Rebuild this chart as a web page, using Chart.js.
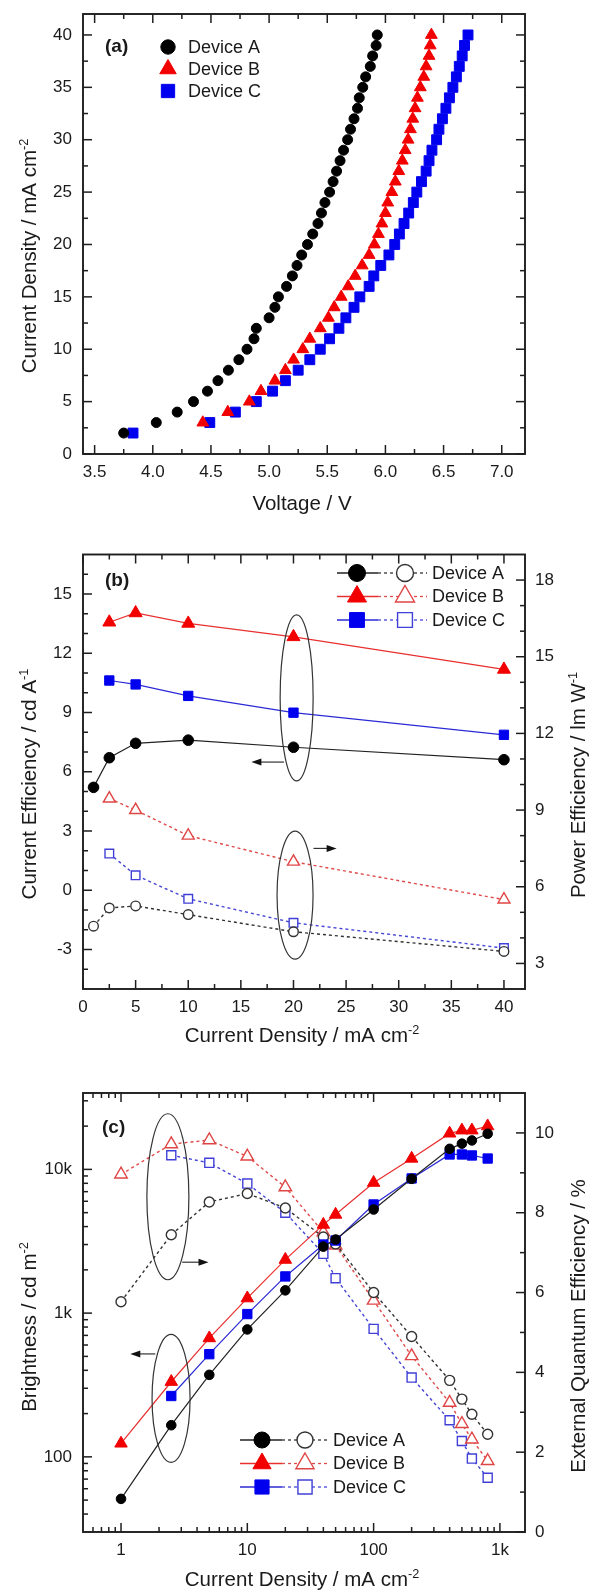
<!DOCTYPE html>
<html lang="en">
<head>
    <meta charset="UTF-8">
    <title>Device Characteristics</title>
    <script src="https://cdn.jsdelivr.net/npm/chart.js"></script>
    <style>
        body { margin: 0; background: #fff; }
        .panel { position: absolute; left: 0; }
        canvas { display: block; }
    </style>
</head>
<body>
    <div class="panel" style="top:0"><canvas id="jvChart" width="592" height="546"></canvas></div>
    <div class="panel" style="top:546px"><canvas id="effChart" width="592" height="516"></canvas></div>
    <div class="panel" style="top:1062px"><canvas id="lumChart" width="592" height="529"></canvas></div>

    <script>
        // (a) current density vs voltage
        const jA = [2, 3, 4, 5, 6, 7, 8, 9, 10, 11, 12, 13, 14, 15, 16, 17, 18, 19, 20, 21, 22, 23, 24, 25, 26, 27, 28, 29, 30, 31, 32, 33, 34, 35, 36, 37, 38, 39, 40];
        const voltA = [3.75, 4.03, 4.21, 4.35, 4.47, 4.56, 4.65, 4.74, 4.81, 4.87, 4.89, 5.00, 5.05, 5.08, 5.15, 5.20, 5.24, 5.28, 5.33, 5.375, 5.42, 5.45, 5.48, 5.52, 5.55, 5.58, 5.61, 5.64, 5.675, 5.70, 5.73, 5.76, 5.775, 5.805, 5.83, 5.87, 5.89, 5.92, 5.93];
        const jB = [3, 4, 5, 6, 7, 8, 9, 10, 11, 12, 13, 14, 15, 16, 17, 18, 19, 20, 21, 22, 23, 24, 25, 26, 27, 28, 29, 30, 31, 32, 33, 34, 35, 36, 37, 38, 39, 40];
        const voltB = [4.43, 4.645, 4.83, 4.93, 5.05, 5.14, 5.21, 5.29, 5.35, 5.44, 5.51, 5.56, 5.62, 5.68, 5.74, 5.80, 5.86, 5.905, 5.94, 5.97, 6.0, 6.02, 6.055, 6.085, 6.115, 6.145, 6.17, 6.195, 6.215, 6.235, 6.255, 6.275, 6.30, 6.33, 6.35, 6.375, 6.385, 6.395];
        const jC = [2, 3, 4, 5, 6, 7, 8, 9, 10, 11, 12, 13, 14, 15, 16, 17, 18, 19, 20, 21, 22, 23, 24, 25, 26, 27, 28, 29, 30, 31, 32, 33, 34, 35, 36, 37, 38, 39, 40];
        const voltC = [3.83, 4.49, 4.71, 4.89, 5.03, 5.14, 5.25, 5.35, 5.44, 5.52, 5.60, 5.66, 5.73, 5.78, 5.86, 5.90, 5.96, 6.03, 6.08, 6.12, 6.16, 6.20, 6.24, 6.27, 6.31, 6.35, 6.375, 6.40, 6.44, 6.46, 6.49, 6.52, 6.55, 6.58, 6.61, 6.635, 6.66, 6.68, 6.71];
        const voltTicks = [3.5, 4.0, 4.5, 5.0, 5.5, 6.0, 6.5, 7.0];
        const voltMinor = [3.75, 4.25, 4.75, 5.25, 5.75, 6.25, 6.75];
        const jTicks = [0, 5, 10, 15, 20, 25, 30, 35, 40];
        const jMinor = [2.5, 7.5, 12.5, 17.5, 22.5, 27.5, 32.5, 37.5];

        // (b) current and power efficiency vs current density
        const densA = [1, 2.5, 5, 10, 20, 40];
        const densBC = [2.5, 5, 10, 20, 40];
        const ceA = [5.21, 6.71, 7.44, 7.6, 7.24, 6.61];
        const ceB = [13.57, 14.04, 13.51, 12.83, 11.18];
        const ceC = [10.62, 10.42, 9.84, 8.99, 7.87];
        const peA = [4.46, 5.17, 5.25, 4.91, 4.24, 3.47];
        const peB = [9.45, 9.0, 8.0, 6.98, 5.5];
        const peC = [7.3, 6.45, 5.53, 4.59, 3.6];
        const densTicks = [0, 5, 10, 15, 20, 25, 30, 35, 40];
        const densMinor = [2.5, 7.5, 12.5, 17.5, 22.5, 27.5, 32.5, 37.5];
        const ceTicks = [-3, 0, 3, 6, 9, 12, 15];
        const ceMinor = [-4, -2, -1, 1, 2, 4, 5, 7, 8, 10, 11, 13, 14, 16];
        const peTicks = [3, 6, 9, 12, 15, 18];
        const peMinor = [4, 5, 7, 8, 10, 11, 13, 14, 16, 17];

        // (c) brightness and EQE vs current density (log)
        const densAB = [1, 2.5, 5, 10, 20, 40, 50, 100, 200, 400, 500, 600, 800];
        const densOnlyC = [2.5, 5, 10, 20, 40, 50, 100, 200, 400, 500, 600, 800];
        const brA = [51, 166, 372, 770, 1440, 2900, 3250, 5260, 8600, 13900, 15100, 15900, 17700];
        const brB = [124, 333, 670, 1270, 2355, 4130, 4850, 8080, 11900, 17800, 18700, 18700, 20000];
        const brC = [265, 518, 985, 1800, 3000, 3200, 5700, 8650, 12700, 12700, 12500, 11900];
        const eqeA = [5.77, 7.45, 8.27, 8.48, 8.12, 7.39, 7.22, 6.0, 4.9, 3.80, 3.33, 2.95, 2.45];
        const eqeB = [8.96, 9.72, 9.82, 9.41, 8.64, 7.51, 7.18, 5.8, 4.41, 3.24, 2.71, 2.32, 1.78];
        const eqeC = [9.44, 9.25, 8.73, 8.0, 6.97, 6.36, 5.09, 3.87, 2.80, 2.28, 1.84, 1.36];
        const logDensTicks = [1, 10, 100, 1000];
        const logDensText = ['1', '10', '100', '1k'];
        const logDensMinor = [0.6, 0.7, 0.8, 0.9, 2, 3, 4, 5, 6, 7, 8, 9, 20, 30, 40, 50, 60, 70, 80, 90, 200, 300, 400, 500, 600, 700, 800, 900];
        const brTicks = [100, 1000, 10000];
        const brText = ['100', '1k', '10k'];
        const brMinor = [40, 50, 60, 70, 80, 90, 200, 300, 400, 500, 600, 700, 800, 900, 2000, 3000, 4000, 5000, 6000, 7000, 8000, 9000, 20000, 30000];
        const eqeTicks = [0, 2, 4, 6, 8, 10];
        const eqeMinor = [1, 3, 5, 7, 9];

        const FONT = "'Liberation Sans', Arial, Helvetica, sans-serif";
        const INK = '#1a1a1a';

        function drawMarker(ctx, shape, x, y, r, fill, stroke, lw) {
            ctx.beginPath();
            if (shape === 'circle') {
                ctx.arc(x, y, r, 0, Math.PI * 2);
            } else if (shape === 'triangle') {
                ctx.moveTo(x, y - r);
                ctx.lineTo(x + r * 0.866, y + r * 0.5);
                ctx.lineTo(x - r * 0.866, y + r * 0.5);
            } else {
                const s = r * Math.SQRT1_2;
                ctx.rect(x - s, y - s, 2 * s, 2 * s);
            }
            ctx.closePath();
            ctx.fillStyle = fill;
            ctx.fill();
            ctx.strokeStyle = stroke;
            ctx.lineWidth = lw;
            ctx.stroke();
        }

        // text with raised superscript pieces, centred on (x, y)
        function drawRich(ctx, parts, x, y, rot, size) {
            const main = size + 'px ' + FONT;
            const sup = (size * 0.62) + 'px ' + FONT;
            ctx.save();
            ctx.translate(x, y);
            ctx.rotate(rot);
            ctx.fillStyle = INK;
            ctx.textBaseline = 'alphabetic';
            ctx.textAlign = 'left';
            let w = 0;
            parts.forEach(([t, s]) => { ctx.font = s ? sup : main; w += ctx.measureText(t).width; });
            let cx = -w / 2;
            parts.forEach(([t, s]) => {
                ctx.font = s ? sup : main;
                ctx.fillText(t, cx, s ? size * 0.36 - size * 0.42 : size * 0.36);
                cx += ctx.measureText(t).width;
            });
            ctx.restore();
        }

        // frame, inward ticks, annotations, legend and titles
        const decor = {
            id: 'decor',
            afterDatasetsDraw(chart, args, o) {
                if (!o || !o.ticks) return;
                const ctx = chart.ctx, a = chart.chartArea;
                ctx.save();

                ctx.strokeStyle = '#333';
                ctx.fillStyle = '#111';
                ctx.lineWidth = 1.2;
                (o.marks || []).forEach(m => {
                    const xs = chart.scales.x, ys = chart.scales[m.axis || 'y'];
                    if (m.ellipse) {
                        ctx.beginPath();
                        ctx.ellipse(xs.getPixelForValue(m.x), ys.getPixelForValue(m.y), m.rx, m.ry, 0, 0, Math.PI * 2);
                        ctx.stroke();
                    } else {
                        const x1 = xs.getPixelForValue(m.from), x2 = xs.getPixelForValue(m.to), y = ys.getPixelForValue(m.y);
                        const d = Math.sign(x2 - x1);
                        ctx.beginPath();
                        ctx.moveTo(x1, y);
                        ctx.lineTo(x2 - d * 6, y);
                        ctx.stroke();
                        ctx.beginPath();
                        ctx.moveTo(x2, y);
                        ctx.lineTo(x2 - d * 10, y - 3.5);
                        ctx.lineTo(x2 - d * 10, y + 3.5);
                        ctx.closePath();
                        ctx.fill();
                    }
                });

                ctx.strokeStyle = '#1e1e1e';
                ctx.lineWidth = 1.5;
                Object.entries(o.ticks).forEach(([side, t]) => {
                    const s = chart.scales[t.scale];
                    [[t.major, 9], [t.minor, 5]].forEach(([vals, len]) => vals.forEach(v => {
                        const p = s.getPixelForValue(v);
                        ctx.beginPath();
                        if (side === 'bottom') { ctx.moveTo(p, a.bottom); ctx.lineTo(p, a.bottom - len); }
                        else if (side === 'top') { ctx.moveTo(p, a.top); ctx.lineTo(p, a.top + len); }
                        else if (side === 'left') { ctx.moveTo(a.left, p); ctx.lineTo(a.left + len, p); }
                        else { ctx.moveTo(a.right, p); ctx.lineTo(a.right - len, p); }
                        ctx.stroke();
                    }));
                });
                ctx.lineWidth = 1.9;
                ctx.strokeRect(a.left, a.top, a.right - a.left, a.bottom - a.top);

                const lg = o.legend;
                if (lg) {
                    const ds = chart.data.datasets;
                    lg.items.forEach((it, i) => {
                        const y = lg.rows[i];
                        const f = ds[it.filled];
                        if (it.open !== undefined) {
                            const op = ds[it.open];
                            ctx.save();
                            ctx.strokeStyle = op.borderColor;
                            ctx.lineWidth = 1.3;
                            ctx.setLineDash(op.borderDash);
                            ctx.beginPath();
                            ctx.moveTo(lg.solidTo, y);
                            ctx.lineTo(lg.lineTo, y);
                            ctx.stroke();
                            ctx.restore();
                            ctx.strokeStyle = f.borderColor;
                            ctx.lineWidth = 1.3;
                            ctx.beginPath();
                            ctx.moveTo(lg.lineFrom, y);
                            ctx.lineTo(lg.solidTo, y);
                            ctx.stroke();
                            drawMarker(ctx, op.pointStyle, lg.openX, y, lg.r[op.pointStyle], '#fff', op.pointBorderColor, 1.4);
                        }
                        drawMarker(ctx, f.pointStyle, lg.markX, y, lg.r[f.pointStyle], f.pointBackgroundColor, f.pointBorderColor, 1);
                        ctx.fillStyle = INK;
                        ctx.font = '18px ' + FONT;
                        ctx.textBaseline = 'middle';
                        ctx.textAlign = 'left';
                        ctx.fillText(f.label, lg.textX, y + 1);
                    });
                }

                (o.titles || []).forEach(t => drawRich(ctx, t.parts, t.x, t.y, t.rot || 0, 20.5));

                if (o.tag) {
                    ctx.fillStyle = INK;
                    ctx.font = 'bold 19px ' + FONT;
                    ctx.textBaseline = 'middle';
                    ctx.textAlign = 'left';
                    ctx.fillText(o.tag.text, o.tag.x, o.tag.y);
                }
                ctx.restore();
            }
        };
        Chart.register(decor);

        function axis({ type = 'linear', pos, min, max, vals, text, size, digits = 0 }) {
            return {
                type, position: pos, min, max, bounds: 'data',
                grid: { display: false, drawTicks: false },
                border: { display: false },
                ticks: {
                    color: INK,
                    font: { family: FONT, size: 17 },
                    padding: pos === 'bottom' ? 8 : (pos === 'left' ? 11 : 10),
                    autoSkip: false,
                    maxRotation: 0,
                    callback: v => text ? text[vals.indexOf(v)] : Number(v).toFixed(digits)
                },
                afterBuildTicks: s => { s.ticks = vals.map(v => ({ value: v })); },
                afterFit: s => {
                    if (pos === 'bottom') s.height = size; else s.width = size;
                    // labels never reach the canvas edge, so no extra room is needed
                    s.paddingTop = s.paddingBottom = s.paddingLeft = s.paddingRight = 0;
                }
            };
        }

        function series(label, xs, ys, st) {
            return {
                label,
                data: xs.map((x, i) => ({ x, y: ys[i] })),
                yAxisID: st.axis || 'y',
                showLine: !!st.line,
                borderColor: st.line || st.color,
                borderWidth: st.open ? 1.4 : 1.2,
                borderDash: st.open ? [3, 3] : [],
                pointStyle: st.shape,
                pointRadius: st.r,
                pointHoverRadius: st.r,
                pointBackgroundColor: st.open ? '#fff' : st.color,
                pointBorderColor: st.color,
                pointBorderWidth: st.open ? 1.4 : 1
            };
        }

        const base = {
            responsive: false,
            animation: false,
            devicePixelRatio: 1,
            events: []
        };

        const RED = '#f20000', BLUE = '#0000ee', BLACK = '#000';

        // (a)
        new Chart(document.getElementById('jvChart'), {
            type: 'scatter',
            data: {
                datasets: [
                    series('Device A', voltA, jA, { shape: 'circle', r: 5, color: BLACK }),
                    series('Device B', voltB, jB, { shape: 'triangle', r: 6.8, color: RED }),
                    series('Device C', voltC, jC, { shape: 'rect', r: 7, color: BLUE })
                ]
            },
            options: {
                ...base,
                layout: { padding: { top: 14, right: 67, left: 0, bottom: 0 } },
                scales: {
                    x: axis({ pos: 'bottom', min: 3.4, max: 7.2, vals: voltTicks, size: 92, digits: 1 }),
                    y: axis({ pos: 'left', min: 0, max: 42, vals: jTicks, size: 83 })
                },
                plugins: {
                    legend: { display: false },
                    tooltip: { enabled: false },
                    decor: {
                        ticks: {
                            bottom: { scale: 'x', major: voltTicks, minor: voltMinor },
                            top: { scale: 'x', major: voltTicks, minor: voltMinor },
                            left: { scale: 'y', major: jTicks, minor: jMinor },
                            right: { scale: 'y', major: jTicks, minor: jMinor }
                        },
                        legend: {
                            items: [{ filled: 0 }, { filled: 1 }, { filled: 2 }],
                            rows: [47, 69, 91], markX: 168, textX: 188,
                            r: { circle: 7.2, triangle: 9.5, rect: 9.4 }
                        },
                        titles: [
                            { parts: [['Voltage / V']], x: 302, y: 503 },
                            { parts: [['Current Density / mA cm'], ['-2', 1]], x: 29, y: 256, rot: -Math.PI / 2 }
                        ],
                        tag: { text: '(a)', x: 105, y: 47 }
                    }
                }
            }
        });

        // (b)
        new Chart(document.getElementById('effChart'), {
            type: 'scatter',
            data: {
                datasets: [
                    series('Device A', densA, ceA, { shape: 'circle', r: 5.3, color: BLACK, line: '#222' }),
                    series('Device B', densBC, ceB, { shape: 'triangle', r: 7.5, color: RED, line: '#e83030' }),
                    series('Device C', densBC, ceC, { shape: 'rect', r: 6.6, color: BLUE, line: '#2a2ad6' }),
                    series('Device A', densA, peA, { shape: 'circle', r: 4.8, color: '#333', line: '#333', open: true, axis: 'y2' }),
                    series('Device B', densBC, peB, { shape: 'triangle', r: 6.9, color: '#e04545', line: '#e04a4a', open: true, axis: 'y2' }),
                    series('Device C', densBC, peC, { shape: 'rect', r: 6.1, color: '#4040d8', line: '#4545d6', open: true, axis: 'y2' })
                ]
            },
            options: {
                ...base,
                layout: { padding: { top: 2, right: 0, left: 0, bottom: 0 } },
                scales: {
                    x: axis({ pos: 'bottom', min: 0, max: 42, vals: densTicks, size: 73 }),
                    y: axis({ pos: 'left', min: -5, max: 17, vals: ceTicks, size: 83 }),
                    y2: axis({ pos: 'right', min: 2, max: 19, vals: peTicks, size: 67 })
                },
                plugins: {
                    legend: { display: false },
                    tooltip: { enabled: false },
                    decor: {
                        ticks: {
                            bottom: { scale: 'x', major: densTicks, minor: densMinor },
                            top: { scale: 'x', major: densTicks, minor: densMinor },
                            left: { scale: 'y', major: ceTicks, minor: ceMinor },
                            right: { scale: 'y2', major: peTicks, minor: peMinor }
                        },
                        marks: [
                            { ellipse: true, x: 20.3, y: 9.74, rx: 16.5, ry: 83 },
                            { from: 19.1, to: 16.0, y: 6.49 },
                            { ellipse: true, x: 20.15, y: 5.67, axis: 'y2', rx: 18, ry: 64 },
                            { from: 21.9, to: 24.1, y: 7.5, axis: 'y2' }
                        ],
                        legend: {
                            items: [{ filled: 0, open: 3 }, { filled: 1, open: 4 }, { filled: 2, open: 5 }],
                            rows: [27, 50.5, 74], lineFrom: 337, solidTo: 378, lineTo: 427,
                            markX: 357, openX: 405, textX: 432,
                            r: { circle: 8.5, triangle: 11, rect: 10.5 }
                        },
                        titles: [
                            { parts: [['Current Density / mA cm'], ['-2', 1]], x: 302, y: 489 },
                            { parts: [['Current Efficiency / cd A'], ['-1', 1]], x: 29, y: 238, rot: -Math.PI / 2 },
                            { parts: [['Power Efficiency / lm W'], ['-1', 1]], x: 578, y: 239, rot: -Math.PI / 2 }
                        ],
                        tag: { text: '(b)', x: 105, y: 35 }
                    }
                }
            }
        });

        // (c)
        new Chart(document.getElementById('lumChart'), {
            type: 'scatter',
            data: {
                datasets: [
                    series('Device A', densAB, brA, { shape: 'circle', r: 4.8, color: BLACK, line: '#222' }),
                    series('Device B', densAB, brB, { shape: 'triangle', r: 7.2, color: RED, line: '#e83030' }),
                    series('Device C', densOnlyC, brC, { shape: 'rect', r: 6.6, color: BLUE, line: '#2a2ad6' }),
                    series('Device A', densAB, eqeA, { shape: 'circle', r: 5, color: '#333', line: '#333', open: true, axis: 'y2' }),
                    series('Device B', densAB, eqeB, { shape: 'triangle', r: 7.2, color: '#e04545', line: '#e04a4a', open: true, axis: 'y2' }),
                    series('Device C', densOnlyC, eqeC, { shape: 'rect', r: 6.4, color: '#4040d8', line: '#4545d6', open: true, axis: 'y2' })
                ]
            },
            options: {
                ...base,
                layout: { padding: { top: 31, right: 0, left: 0, bottom: 0 } },
                scales: {
                    x: axis({ type: 'logarithmic', pos: 'bottom', min: 0.5, max: 1580, vals: logDensTicks, text: logDensText, size: 59 }),
                    y: axis({ type: 'logarithmic', pos: 'left', min: 30, max: 34000, vals: brTicks, text: brText, size: 83 }),
                    y2: axis({ pos: 'right', min: 0, max: 11, vals: eqeTicks, size: 67 })
                },
                plugins: {
                    legend: { display: false },
                    tooltip: { enabled: false },
                    decor: {
                        ticks: {
                            bottom: { scale: 'x', major: logDensTicks, minor: logDensMinor },
                            top: { scale: 'x', major: logDensTicks, minor: logDensMinor },
                            left: { scale: 'y', major: brTicks, minor: brMinor },
                            right: { scale: 'y2', major: eqeTicks, minor: eqeMinor }
                        },
                        marks: [
                            { ellipse: true, x: 2.35, y: 8.4, axis: 'y2', rx: 21, ry: 83 },
                            { from: 3.05, to: 4.93, y: 6.76, axis: 'y2' },
                            { ellipse: true, x: 2.49, y: 255, rx: 19, ry: 64 },
                            { from: 1.87, to: 1.185, y: 520 }
                        ],
                        legend: {
                            items: [{ filled: 0, open: 3 }, { filled: 1, open: 4 }, { filled: 2, open: 5 }],
                            rows: [378, 401.5, 425], lineFrom: 240, solidTo: 282, lineTo: 328,
                            markX: 262, openX: 305, textX: 333,
                            r: { circle: 8, triangle: 10.5, rect: 10 }
                        },
                        titles: [
                            { parts: [['Current Density / mA cm'], ['-2', 1]], x: 302, y: 517 },
                            { parts: [['Brightness / cd m'], ['-2', 1]], x: 29, y: 265, rot: -Math.PI / 2 },
                            { parts: [['External Quantum Efficiency / %']], x: 578, y: 264, rot: -Math.PI / 2 }
                        ],
                        tag: { text: '(c)', x: 102, y: 66 }
                    }
                }
            }
        });
    </script>
</body>
</html>
